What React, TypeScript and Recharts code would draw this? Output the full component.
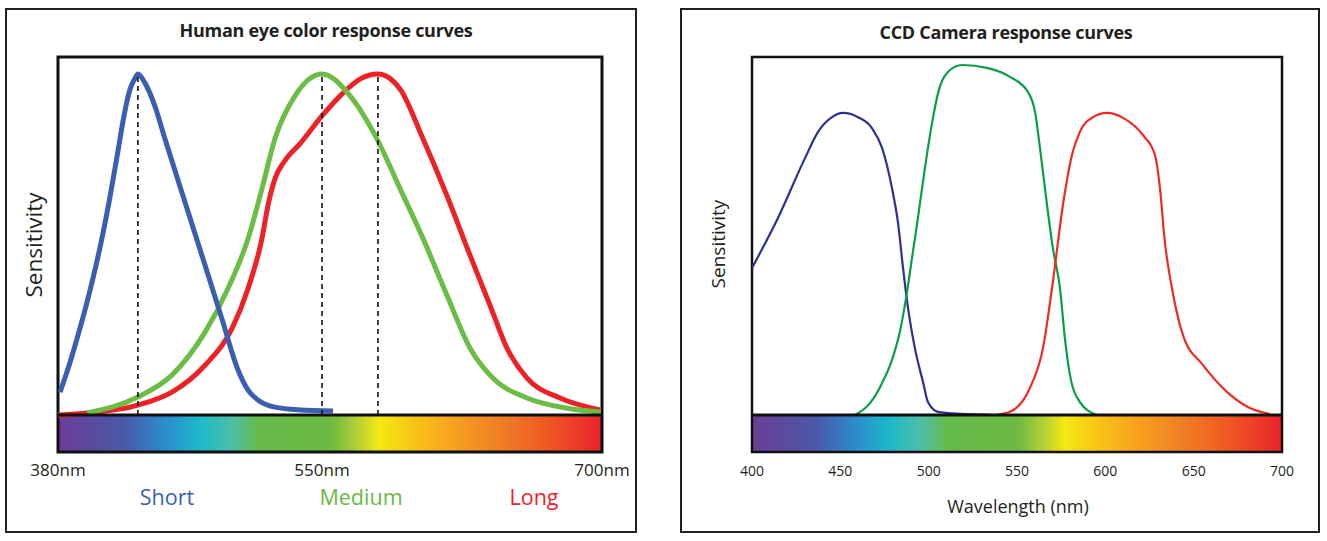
import React from "react";
import { LineChart, Line, XAxis, YAxis, ReferenceArea, ReferenceLine } from "recharts";

// ---------- Left panel: human eye ----------
const shortNm = [381.2, 387.1, 392.9, 398.8, 404.7, 410.6, 415.3, 418.8, 422.4, 424.7, 427, 431.1, 437, 442.9, 456.5, 466.5, 476.5, 485.9, 491.8, 497.6, 507.6, 522.4, 541.8];
const shortVal = [0.067, 0.155, 0.254, 0.365, 0.491, 0.64, 0.775, 0.877, 0.956, 0.982, 1.0, 0.974, 0.906, 0.81, 0.596, 0.439, 0.281, 0.132, 0.073, 0.044, 0.023, 0.015, 0.012];

const mediumNm = [397.1, 427, 447, 466.5, 480, 491.8, 500, 507.6, 519.4, 535.3, 551.8, 567.6, 581.2, 594.7, 608.8, 622.4, 635.9, 655.9, 679.4, 698.8];
const mediumVal = [0.006, 0.053, 0.117, 0.243, 0.371, 0.517, 0.664, 0.81, 0.936, 1.0, 0.936, 0.81, 0.664, 0.518, 0.351, 0.196, 0.108, 0.05, 0.02, 0.009];

const longNm = [380, 397.6, 427, 447, 466.5, 482.4, 491.8, 500, 503.5, 507.6, 513.5, 522.4, 535.3, 547.6, 557.6, 568.2, 581.2, 594.7, 608.8, 622.4, 634.1, 644.1, 655.9, 675.3, 698.8];
const longVal = [0, 0.006, 0.029, 0.067, 0.146, 0.254, 0.371, 0.518, 0.614, 0.693, 0.746, 0.796, 0.877, 0.944, 0.985, 1.0, 0.956, 0.81, 0.643, 0.468, 0.322, 0.196, 0.108, 0.05, 0.015];

const eyePeaks = [427, 535.3, 568.2];
const eyeTickValues = [380, 535.3, 700];
const eyeTickLabels = ["380nm", "550nm", "700nm"];
const eyeLegend = ["Short", "Medium", "Long"];

// ---------- Right panel: CCD camera ----------
const ccdBlueNm = [400, 414.7, 430, 437.4, 445.3, 451.5, 460, 467.9, 473.6, 479.2, 482.6, 485.5, 488.3, 492.2, 496.8, 499.6, 505.3, 518.8, 537.5];
const ccdBlueVal = [0.42, 0.563, 0.734, 0.809, 0.851, 0.863, 0.851, 0.82, 0.763, 0.649, 0.551, 0.42, 0.306, 0.191, 0.094, 0.037, 0.009, 0.003, 0];

const ccdGreenNm = [458.3, 466.8, 473.6, 479.2, 483.8, 487.2, 490.5, 494, 497.9, 501.9, 505.8, 510.9, 518.8, 533.6, 546, 556.2, 560.2, 563, 567, 570.3, 574.3, 577.1, 580, 585.6, 595.2];
const ccdGreenVal = [0, 0.034, 0.091, 0.157, 0.24, 0.334, 0.446, 0.566, 0.706, 0.834, 0.929, 0.98, 1.0, 0.991, 0.966, 0.923, 0.866, 0.763, 0.6, 0.477, 0.363, 0.22, 0.114, 0.037, 0];

const ccdRedNm = [537.5, 546, 557.3, 564.7, 570.3, 576, 581.1, 585.6, 593, 600.9, 610, 621.3, 628.1, 630.9, 633.7, 637.7, 643.9, 655.2, 668.8, 681.8, 693.1];
const ccdRedVal = [0, 0.009, 0.077, 0.191, 0.38, 0.6, 0.743, 0.809, 0.851, 0.863, 0.849, 0.8, 0.743, 0.649, 0.494, 0.363, 0.229, 0.143, 0.066, 0.02, 0.003];

const ccdTicks = [400, 450, 500, 550, 600, 650, 700];

const zip = (xs: number[], ys: number[]) => xs.map((nm, i) => ({ nm, v: ys[i] }));

const FONT = "'Open Sans', 'DejaVu Sans', sans-serif";
const INK = "#231f20";

const spectrumStops: [number, string][] = [
  [0, "#6b3d97"],
  [0.12, "#4b58a8"],
  [0.2, "#2a8fd0"],
  [0.26, "#1db9ca"],
  [0.32, "#4dbfa6"],
  [0.37, "#66ba4a"],
  [0.5, "#6cb944"],
  [0.55, "#b3cf36"],
  [0.59, "#f4e813"],
  [0.65, "#f8c616"],
  [0.72, "#f7a51f"],
  [0.82, "#f07b24"],
  [0.9, "#ee5824"],
  [1, "#e8232a"],
];

const Gradient = ({ id }: { id: string }) => (
  <defs>
    <linearGradient id={id} x1="0" y1="0" x2="1" y2="0">
      {spectrumStops.map(([o, c]) => (
        <stop key={o} offset={o} stopColor={c} />
      ))}
    </linearGradient>
  </defs>
);

const EyeTick = (props: any) => {
  const { x, y, payload } = props;
  const i = eyeTickValues.indexOf(payload.value);
  return (
    <text x={x} y={y + 24} textAnchor="middle" fontSize={17} fill={INK} fontFamily={FONT}>
      {eyeTickLabels[i]}
    </text>
  );
};

const CcdTick = (props: any) => {
  const { x, y, payload } = props;
  return (
    <text x={x} y={y + 24} textAnchor="middle" fontSize={14} fill={INK} fontFamily={FONT}>
      {payload.value}
    </text>
  );
};

const EYE_LO = -0.1085;
const EYE_HI = 1.0499;
const CCD_LO = -0.1057;
const CCD_HI = 1.0229;

const legendColors = ["#3a5fae", "#6ab945", "#ec2227"];
const legendX = [167, 361, 534];

export default function App() {
  return (
    <div style={{ position: "absolute", left: 0, top: 0, width: 1327, height: 541, background: "#fff", fontFamily: FONT }}>
      {/* Panel frames */}
      <div style={{ position: "absolute", left: 5, top: 8, width: 632, height: 525, border: "2px solid #231f20", boxSizing: "border-box" }} />
      <div style={{ position: "absolute", left: 680, top: 8, width: 640, height: 525, border: "2px solid #231f20", boxSizing: "border-box" }} />

      {/* Left chart */}
      <div style={{ position: "absolute", left: 0, top: 0 }}>
        <LineChart width={640} height={541} margin={{ top: 57, left: 58, right: 38, bottom: 49 }}>
          <Gradient id="specL" />
          <XAxis
            dataKey="nm"
            type="number"
            domain={[380, 700]}
            ticks={eyeTickValues}
            allowDataOverflow
            axisLine={false}
            tickLine={false}
            tickSize={0}
            tickMargin={0}
            height={40}
            tick={<EyeTick />}
            interval={0}
          />
          <YAxis hide type="number" domain={[EYE_LO, EYE_HI]} allowDataOverflow />
          <ReferenceArea x1={380} x2={700} y1={EYE_LO} y2={0} fill="url(#specL)" fillOpacity={1} stroke="none" />
          <Line data={zip(longNm, longVal)} dataKey="v" type="monotone" stroke="#ec2227" strokeWidth={5} dot={false} isAnimationActive={false} />
          <Line data={zip(mediumNm, mediumVal)} dataKey="v" type="monotone" stroke="#6cbd45" strokeWidth={5} dot={false} isAnimationActive={false} />
          <Line data={zip(shortNm, shortVal)} dataKey="v" type="monotone" stroke="#3a5fb0" strokeWidth={5} dot={false} isAnimationActive={false} />
          {eyePeaks.map((p) => (
            <ReferenceLine
              key={p}
              segment={[{ x: p, y: 0 }, { x: p, y: 1 }]}
              stroke="#111"
              strokeWidth={1.6}
              strokeDasharray="5 4"
            />
          ))}
          <ReferenceLine y={0} stroke="#111" strokeWidth={3} />
          <ReferenceArea x1={380} x2={700} y1={EYE_LO} y2={EYE_HI} fill="none" fillOpacity={0} stroke="#111" strokeWidth={3} />
        </LineChart>
      </div>

      {/* Right chart */}
      <div style={{ position: "absolute", left: 680, top: 0 }}>
        <LineChart width={647} height={541} margin={{ top: 57, left: 72, right: 45, bottom: 49 }}>
          <Gradient id="specR" />
          <XAxis
            dataKey="nm"
            type="number"
            domain={[400, 700]}
            ticks={ccdTicks}
            allowDataOverflow
            axisLine={false}
            tickLine={false}
            tickSize={0}
            tickMargin={0}
            height={40}
            tick={<CcdTick />}
            interval={0}
          />
          <YAxis hide type="number" domain={[CCD_LO, CCD_HI]} allowDataOverflow />
          <ReferenceArea x1={400} x2={700} y1={CCD_LO} y2={0} fill="url(#specR)" fillOpacity={1} stroke="none" />
          <Line data={zip(ccdBlueNm, ccdBlueVal)} dataKey="v" type="monotone" stroke="#2e3192" strokeWidth={2.2} dot={false} isAnimationActive={false} />
          <Line data={zip(ccdGreenNm, ccdGreenVal)} dataKey="v" type="monotone" stroke="#0a9e4a" strokeWidth={2.2} dot={false} isAnimationActive={false} />
          <Line data={zip(ccdRedNm, ccdRedVal)} dataKey="v" type="monotone" stroke="#ee2a24" strokeWidth={2.2} dot={false} isAnimationActive={false} />
          <ReferenceLine y={0} stroke="#111" strokeWidth={3} />
          <ReferenceArea x1={400} x2={700} y1={CCD_LO} y2={CCD_HI} fill="none" fillOpacity={0} stroke="#111" strokeWidth={2.5} />
        </LineChart>
      </div>

      {/* Titles */}
      <div style={{ position: "absolute", left: 5, width: 642, top: 17, textAlign: "center", fontWeight: 700, fontSize: 18, letterSpacing: -0.3, color: INK, lineHeight: "26px" }}>
        Human eye color response curves
      </div>
      <div style={{ position: "absolute", left: 685, width: 642, top: 19, textAlign: "center", fontWeight: 700, fontSize: 18, letterSpacing: -0.3, color: INK, lineHeight: "26px" }}>
        CCD Camera response curves
      </div>

      {/* Y axis titles */}
      <div style={{ position: "absolute", left: 34, top: 245, transform: "translate(-50%, -50%) rotate(-90deg)", fontSize: 22.5, color: INK, whiteSpace: "nowrap", lineHeight: "28px" }}>
        Sensitivity
      </div>
      <div style={{ position: "absolute", left: 718, top: 244, transform: "translate(-50%, -50%) rotate(-90deg)", fontSize: 19, color: INK, whiteSpace: "nowrap", lineHeight: "24px" }}>
        Sensitivity
      </div>

      {/* X axis title right */}
      <div style={{ position: "absolute", left: 1018, top: 506, transform: "translate(-50%, -50%)", fontSize: 18, color: INK, whiteSpace: "nowrap", lineHeight: "24px" }}>
        Wavelength (nm)
      </div>

      {/* Left legend */}
      {eyeLegend.map((t, i) => (
        <div key={t} style={{ position: "absolute", left: legendX[i], top: 497, transform: "translate(-50%, -50%)", fontSize: 21.5, color: legendColors[i], whiteSpace: "nowrap", lineHeight: "28px" }}>
          {t}
        </div>
      ))}
    </div>
  );
}
